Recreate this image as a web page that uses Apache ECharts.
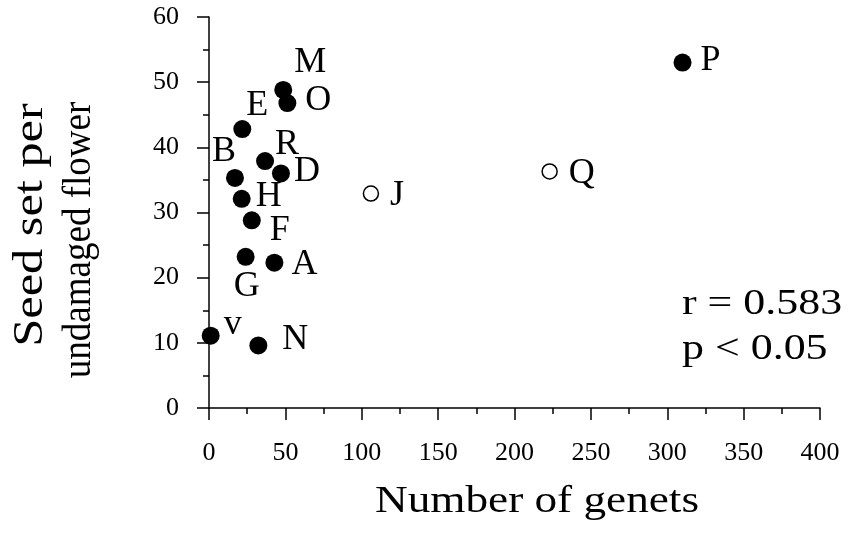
<!DOCTYPE html>
<html>
<head>
<meta charset="utf-8">
<script src="https://cdn.jsdelivr.net/npm/echarts@6/dist/echarts.min.js"></script>
<style>
html,body{margin:0;padding:0;background:#fff;}
#chart{width:849px;height:535px;}
</style>
</head>
<body>
<div id="chart"></div>
<script>
// ---- data ----
const closedNames = ['A','B','D','E','F','G','H','M','N','O','P','R','v'];
const closedX     = [42.8, 17.0, 47.1, 21.8, 28.0, 24.0, 21.4, 48.6, 32.3, 51.3, 310, 36.7, 1.1];
const closedY     = [22.3, 35.3, 36.0, 42.8, 28.8, 23.2, 32.1, 48.8, 9.6, 46.8, 53.0, 37.9, 11.1];
const openNames = ['J','Q'];
const openX     = [106, 223];
const openY     = [32.9, 36.3];
const xTicks = [0, 50, 100, 150, 200, 250, 300, 350, 400];
const yTicks = [0, 10, 20, 30, 40, 50, 60];
const xTitle = 'Number of genets';
const yTitle1 = 'Seed set per';
const yTitle2 = 'undamaged flower';
const statR = 'r = 0.583';
const statP = 'p < 0.05';

// ---- label placement (style) ----
const labelOffset = {
  M:[27,-27], O:[31,-2], E:[15,-24], R:[22,-16], D:[26,-2], B:[-11,-26],
  H:[27,-2], F:[28,10], G:[1,30], A:[30,2], v:[22,-11], N:[37,-6],
  P:[28,-2], Q:[32,2], J:[26,2]
};

const FONT = '"Liberation Serif", "Times New Roman", serif';

function build(names, xs, ys) {
  return names.map((n, i) => ({
    name: n,
    value: [xs[i], ys[i]],
    label: { offset: labelOffset[n] || [20, 0] }
  }));
}

const labelStyle = {
  show: true,
  position: 'inside',
  formatter: p => p.name,
  color: '#000',
  fontFamily: FONT,
  fontSize: 36,
  align: 'center',
  verticalAlign: 'middle'
};

function txt(text, x, y, size, sx, align, rot) {
  return {
    type: 'text', x: x, y: y, rotation: rot || 0, scaleX: sx, scaleY: 1,
    style: { text: text, fontFamily: FONT, fontSize: size, fill: '#000',
             align: align, verticalAlign: 'middle' },
    z: 10
  };
}

const chart = echarts.init(document.getElementById('chart'), null, {renderer: 'canvas'});
chart.setOption({
  animation: false,
  backgroundColor: '#fff',
  grid: { left: 209, right: 29, top: 17, bottom: 127 },
  xAxis: {
    type: 'value', min: xTicks[0], max: xTicks[xTicks.length - 1], interval: 50,
    axisLine: { show: true, onZero: false, lineStyle: { color: '#000', width: 1.5 } },
    axisTick: { show: true, length: 12, lineStyle: { color: '#000', width: 1.5 } },
    minorTick: { show: true, splitNumber: 2, length: 6, lineStyle: { color: '#000', width: 1.5 } },
    axisLabel: { fontFamily: FONT, fontSize: 26, color: '#000', margin: 32,
                 formatter: v => xTicks.includes(v) ? String(v) : '' },
    splitLine: { show: false }
  },
  yAxis: {
    type: 'value', min: yTicks[0], max: yTicks[yTicks.length - 1], interval: 10,
    axisLine: { show: true, onZero: false, lineStyle: { color: '#000', width: 1.5 } },
    axisTick: { show: true, length: 12, lineStyle: { color: '#000', width: 1.5 } },
    minorTick: { show: true, splitNumber: 2, length: 6, lineStyle: { color: '#000', width: 1.5 } },
    axisLabel: { fontFamily: FONT, fontSize: 26, color: '#000', margin: 30,
                 formatter: v => yTicks.includes(v) ? String(v) : '' },
    splitLine: { show: false }
  },
  series: [
    {
      type: 'scatter', name: 'closed', symbol: 'circle', symbolSize: 18,
      itemStyle: { color: '#000', borderColor: '#000', borderWidth: 0, opacity: 1 },
      label: labelStyle,
      data: build(closedNames, closedX, closedY),
      z: 3
    },
    {
      type: 'scatter', name: 'open', symbol: 'circle', symbolSize: 15,
      itemStyle: { color: '#fff', borderColor: '#000', borderWidth: 1.5, opacity: 1 },
      label: labelStyle,
      data: build(openNames, openX, openY),
      z: 3
    }
  ],
  graphic: [
    txt(xTitle, 537, 502, 38, 1.19, 'center'),
    txt(yTitle1, 31, 225, 42, 1.2, 'center', Math.PI / 2),
    txt(yTitle2, 80, 240, 39, 0.95, 'center', Math.PI / 2),
    txt(statR, 682, 305, 36, 1.22, 'left'),
    txt(statP, 682, 350, 36, 1.22, 'left')
  ]
});
</script>
</body>
</html>
